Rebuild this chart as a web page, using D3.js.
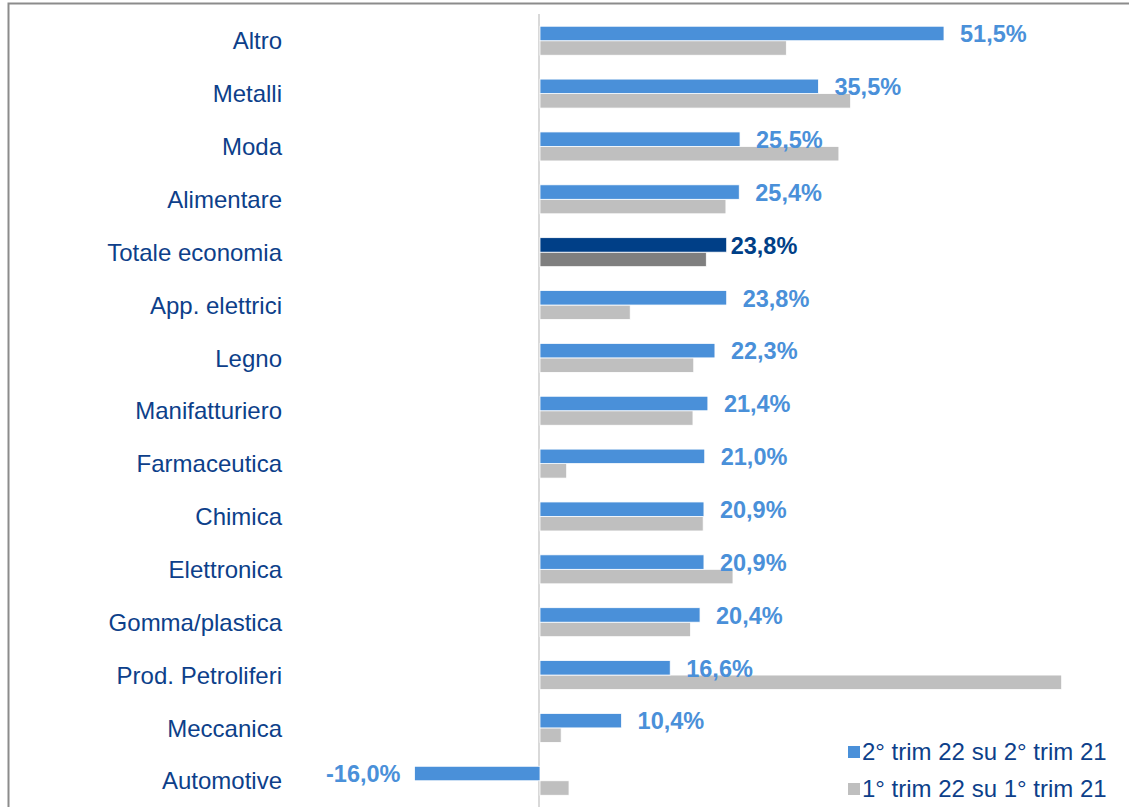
<!DOCTYPE html>
<html>
<head>
<meta charset="utf-8">
<script src="https://cdn.jsdelivr.net/npm/d3@7"></script>
<style>
  body { margin: 0; background: #fff; }
  svg { display: block; font-family: "Liberation Sans", Arial, sans-serif; }
</style>
</head>
<body>
<div id="chart"></div>
<script>
// categories, top to bottom
const categories = ["Altro", "Metalli", "Moda", "Alimentare", "Totale economia", "App. elettrici",
    "Legno", "Manifatturiero", "Farmaceutica", "Chimica", "Elettronica", "Gomma/plastica",
    "Prod. Petroliferi", "Meccanica", "Automotive"];
// 2° trim 22 su 2° trim 21
const q2Values = [51.5, 35.5, 25.5, 25.4, 23.8, 23.8, 22.3, 21.4, 21.0, 20.9, 20.9, 20.4, 16.6, 10.4, -16.0];
// 1° trim 22 su 1° trim 21
const q1Values = [31.4, 39.6, 38.1, 23.7, 21.2, 11.5, 19.6, 19.5, 3.4, 20.8, 24.6, 19.2, 66.5, 2.7, 3.7];
const seriesNames = ["2° trim 22 su 2° trim 21", "1° trim 22 su 1° trim 21"];
const highlight = "Totale economia";

const width = 1129, height = 807;
const colors = { q2: "#4a90d9", q1: "#bfbfbf", q2Hi: "#003f87", q1Hi: "#7f7f7f" };
const labelColor = "#0d3f8a";

const svg = d3.select("#chart").append("svg")
    .attr("width", width)
    .attr("height", height);

// outer frame (only top and left edges are visible)
svg.append("rect")
    .attr("x", 8.5).attr("y", 3.5)
    .attr("width", width + 10).attr("height", height + 10)
    .attr("fill", "none")
    .attr("stroke", "#8c8c8c")
    .attr("stroke-width", 2);

const x = d3.scaleLinear().domain([0, 51.5]).range([540, 944]);
const y = d3.scaleBand().domain(categories).range([14.6, 807.5]);
const inner = d3.scaleBand().domain(["q2", "q1"]).range([-14.8, 14.2]);

// zero line
svg.append("line")
    .attr("x1", x(0) - 1).attr("x2", x(0) - 1)
    .attr("y1", 14).attr("y2", height)
    .attr("stroke", "#d9d9d9")
    .attr("stroke-width", 2);

const rows = categories.map((c, i) => ({ cat: c, q2: q2Values[i], q1: q1Values[i] }));

const groups = svg.selectAll("g.row")
    .data(rows)
    .enter()
    .append("g")
    .attr("class", "row")
    .attr("transform", d => `translate(0,${y(d.cat) + y.bandwidth() / 2})`);

// category labels
groups.append("text")
    .attr("x", 282)
    .attr("dy", "0.35em")
    .attr("text-anchor", "end")
    .attr("font-size", 24)
    .attr("fill", labelColor)
    .text(d => d.cat);

// gray bars (previous quarter)
groups.append("rect")
    .attr("x", d => x(Math.min(0, d.q1)))
    .attr("y", inner("q1"))
    .attr("width", d => Math.abs(x(d.q1) - x(0)))
    .attr("height", inner.bandwidth())
    .attr("fill", d => d.cat === highlight ? colors.q1Hi : colors.q1)
    .attr("stroke", "#fff")
    .attr("stroke-width", 0.8);

// blue bars (current quarter)
groups.append("rect")
    .attr("x", d => x(Math.min(0, d.q2)))
    .attr("y", inner("q2"))
    .attr("width", d => Math.abs(x(d.q2) - x(0)))
    .attr("height", inner.bandwidth())
    .attr("fill", d => d.cat === highlight ? colors.q2Hi : colors.q2)
    .attr("stroke", "#fff")
    .attr("stroke-width", 0.8);

// value labels, italian decimal comma and plain hyphen
const fmt = v => d3.format(".1f")(v).replace(".", ",").replace("\u2212", "-") + "%";
groups.append("text")
    .attr("x", d => d.q2 >= 0 ? x(d.q2) + (d.cat === highlight ? 4 : 16) : x(d.q2) - 14)
    .attr("y", -7)
    .attr("dy", "0.35em")
    .attr("text-anchor", d => d.q2 >= 0 ? "start" : "end")
    .attr("font-size", 23.5)
    .attr("font-weight", "bold")
    .attr("fill", d => d.cat === highlight ? colors.q2Hi : colors.q2)
    .text(d => fmt(d.q2));

// legend
const legend = svg.append("g").attr("transform", "translate(848,752)");
const legendItems = legend.selectAll("g")
    .data(seriesNames)
    .enter()
    .append("g")
    .attr("transform", (d, i) => `translate(0,${i * 37})`);

legendItems.append("rect")
    .attr("x", 0).attr("y", -6)
    .attr("width", 12).attr("height", 12)
    .attr("fill", (d, i) => i === 0 ? colors.q2 : colors.q1);

legendItems.append("text")
    .attr("x", 14)
    .attr("dy", "0.35em")
    .attr("font-size", 24)
    .attr("fill", labelColor)
    .text(d => d);
</script>
</body>
</html>
